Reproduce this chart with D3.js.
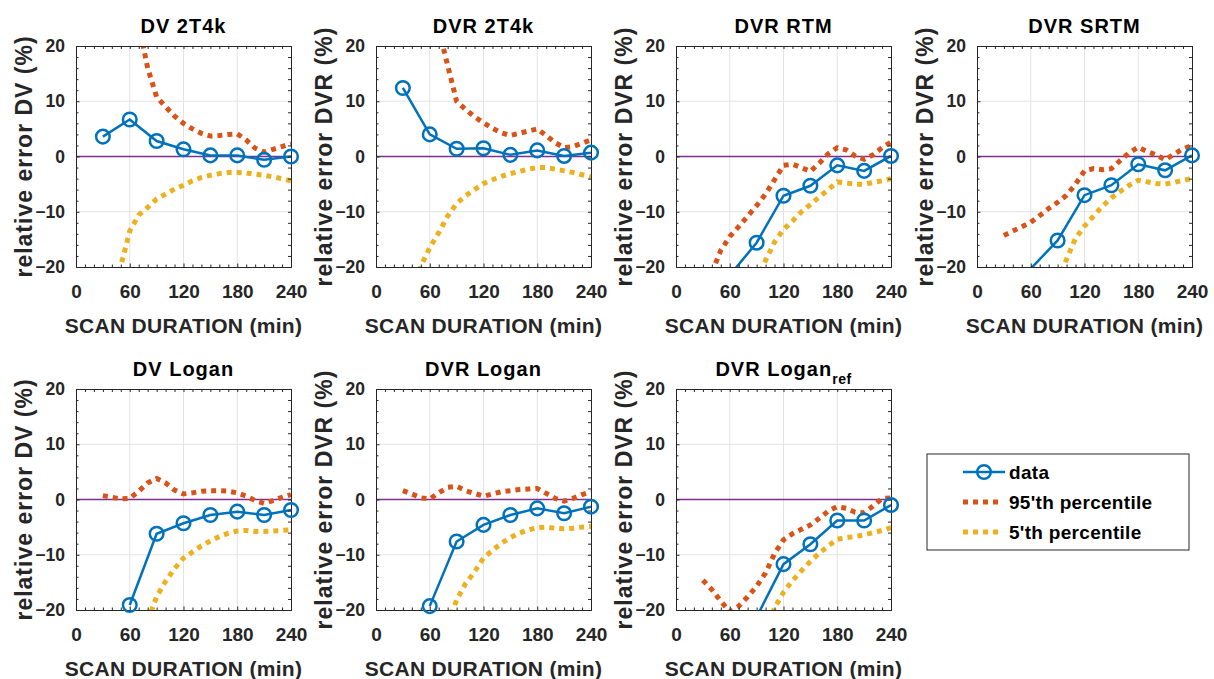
<!DOCTYPE html>
<html>
<head>
<meta charset="utf-8">
<script src="https://cdn.jsdelivr.net/npm/d3@7/dist/d3.min.js"></script>
<style>
    body { margin: 0; background: #fff; }
    text { font-family: "Liberation Sans", Arial, Helvetica, sans-serif; font-weight: bold; }
    .axis path, .axis line { stroke: #262626; }
    .axis text { fill: #262626; }
    .grid line { stroke: #e3e3e3; stroke-width: 1; }
    .title { fill: #000; font-size: 20px; letter-spacing: 1px; }
    .x-label { fill: #262626; font-size: 21px; letter-spacing: 0.3px; }
    .y-label { fill: #262626; font-size: 23px; letter-spacing: 1px; }
    .legend-text { fill: #000; font-size: 19px; letter-spacing: 0.3px; }
</style>
</head>
<body>
<svg id="chart" width="1214" height="679"></svg>
<script>
// scan durations (min) of the data points
const scanTimes = [30, 60, 90, 120, 150, 180, 210, 240];
const pctTimes = [30, 40, 50, 60, 70, 80, 90, 100, 110, 120, 130, 140, 150, 160, 170, 180, 190, 200, 210, 220, 230, 240];

const xTicks = [0, 60, 120, 180, 240];
const yTicks = [-20, -10, 0, 10, 20];
const xMinorTicks = [10, 20, 30, 40, 50, 70, 80, 90, 100, 110, 130, 140, 150, 160, 170, 190, 200, 210, 220, 230];
const yMinorTicks = [-18, -16, -14, -12, -8, -6, -4, -2, 2, 4, 6, 8, 12, 14, 16, 18];

const titles = ["DV 2T4k", "DVR 2T4k", "DVR RTM", "DVR SRTM", "DV Logan", "DVR Logan", "DVR Logan"];
const yLabels = ["relative error DV (%)", "relative error DVR (%)", "relative error DVR (%)", "relative error DVR (%)",
                 "relative error DV (%)", "relative error DVR (%)", "relative error DVR (%)"];
const legendLabels = ["data", "95'th percentile", "5'th percentile"];

// relative error (%) at scanTimes, null = not drawn
const dv2t4kData = [3.6, 6.7, 2.8, 1.3, 0.2, 0.2, -0.6, 0.0];
const dvr2t4kData = [12.4, 4.0, 1.4, 1.5, 0.3, 1.1, 0.1, 0.7];
const dvrRtmData = [null, -21.5, -15.6, -7.1, -5.3, -1.6, -2.6, 0.1];
const dvrSrtmData = [null, -20.3, -15.2, -7.0, -5.2, -1.4, -2.5, 0.2];
const dvLoganData = [null, -19.1, -6.2, -4.3, -2.8, -2.2, -2.8, -1.9];
const dvrLoganData = [null, -19.3, -7.6, -4.6, -2.8, -1.6, -2.5, -1.3];
const dvrLoganRefData = [null, null, -21.3, -11.7, -8.1, -3.8, -3.8, -1.0];

// 95'th percentile at pctTimes
const dv2t4kP95 = [null, null, null, null, 24.0, 16.0, 10.8, 9.0, 7.3, 6.0, 5.0, 4.2, 3.7, 3.8, 4.0, 4.1, 3.0, 1.5, 0.8, 1.3, 1.8, 2.3];
const dvr2t4kP95 = [null, null, null, null, 23.0, 16.5, 10.0, 8.5, 7.2, 6.1, 5.1, 4.3, 3.8, 4.2, 4.6, 5.0, 3.8, 2.5, 1.6, 1.8, 2.4, 3.0];
const dvrRtmP95 = [null, -21.0, -17.0, -14.5, -12.7, -10.8, -8.9, -6.8, -4.2, -1.6, -1.4, -2.0, -2.7, -1.2, 0.5, 1.6, 1.2, 0.1, -0.5, 0.3, 1.6, 2.6];
const dvrSrtmP95 = [-14.3, -13.5, -12.7, -11.9, -10.7, -9.4, -8.3, -7.0, -5.0, -2.6, -2.2, -2.4, -2.2, -0.7, 0.7, 1.7, 0.9, 0.3, -0.6, 0.4, 1.4, 2.0];
const dvLoganP95 = [0.7, 0.4, 0.1, 0.2, 1.5, 3.0, 3.8, 3.0, 1.7, 1.0, 1.2, 1.5, 1.6, 1.6, 1.5, 1.2, 0.6, -0.2, -0.7, -0.2, 0.4, 0.9];
const dvrLoganP95 = [1.6, 1.0, 0.3, 0.1, 1.2, 2.2, 2.4, 1.6, 1.1, 0.6, 1.0, 1.4, 1.6, 1.8, 1.9, 2.0, 1.1, 0.2, -0.3, 0.2, 0.9, 1.4];
const dvrLoganRefP95 = [-14.6, -16.3, -18.4, -20.3, -19.3, -17.6, -15.7, -13.3, -9.8, -7.3, -6.2, -5.4, -4.6, -3.4, -2.1, -1.3, -1.6, -2.3, -2.4, -1.2, 0.2, 0.3];

// 5'th percentile at pctTimes
const dv2t4kP5 = [null, -28.0, -19.8, -13.5, -10.6, -9.2, -7.7, -6.8, -5.9, -5.2, -4.4, -3.8, -3.4, -3.1, -2.9, -2.9, -3.0, -3.2, -3.4, -3.7, -4.0, -4.4];
const dvr2t4kP5 = [null, -26.0, -19.8, -16.5, -13.8, -10.8, -8.5, -7.1, -6.0, -4.9, -4.2, -3.6, -3.1, -2.7, -2.3, -2.0, -2.0, -2.3, -2.6, -2.9, -3.3, -3.7];
const dvrRtmP5 = [null, null, null, null, null, null, -22.5, -18.8, -15.5, -13.2, -11.7, -10.0, -8.7, -7.3, -6.0, -4.6, -4.8, -5.0, -5.0, -4.7, -4.4, -4.0];
const dvrSrtmP5 = [null, null, null, null, null, null, -22.5, -18.6, -14.8, -12.6, -10.8, -9.0, -7.5, -6.3, -5.2, -4.3, -4.6, -4.9, -5.0, -4.7, -4.3, -4.0];
const dvLoganP5 = [null, null, null, null, null, -22.0, -17.6, -14.8, -12.5, -10.6, -9.5, -8.4, -7.5, -6.7, -6.1, -5.7, -5.6, -5.8, -5.8, -5.7, -5.6, -5.5];
const dvrLoganP5 = [null, null, null, null, null, -22.5, -18.2, -15.2, -13.1, -10.6, -9.2, -7.9, -6.9, -6.1, -5.5, -5.1, -5.0, -5.2, -5.3, -5.2, -5.0, -4.9];
const dvrLoganRefP5 = [null, null, null, null, null, null, null, -24.0, -19.6, -16.8, -14.7, -12.9, -11.2, -9.7, -8.4, -7.2, -6.9, -6.7, -6.4, -6.0, -5.6, -5.1];

const dataSeries = [dv2t4kData, dvr2t4kData, dvrRtmData, dvrSrtmData, dvLoganData, dvrLoganData, dvrLoganRefData];
const p95Series = [dv2t4kP95, dvr2t4kP95, dvrRtmP95, dvrSrtmP95, dvLoganP95, dvrLoganP95, dvrLoganRefP95];
const p5Series = [dv2t4kP5, dvr2t4kP5, dvrRtmP5, dvrSrtmP5, dvLoganP5, dvrLoganP5, dvrLoganRefP5];

const colors = {data: "#0072BD", p95: "#D95319", p5: "#EDB120", zero: "#7E2F8E"};

//---LAYOUT------------------------------------------------------------------
const plotW = 215, plotH = 221;
const colLeft = [76, 376, 676, 977];
const rowTop = [46, 389];

let svg = d3.select("#chart");

let xScale = d3.scaleLinear().domain([0, 240]).range([0, plotW]);
let yScale = d3.scaleLinear().domain([-20, 20]).range([plotH, 0]);

let toPoints = (times, values) => times.map((t, i) => ({t: t, v: values[i]}));

let lineGen = d3.line()
    .defined(d => d.v !== null)
    .x(d => xScale(d.t))
    .y(d => yScale(d.v));

function drawPanel(i) {
    let col = i % 4, row = Math.floor(i / 4);
    let g = svg.append("g")
        .attr("transform", "translate(" + colLeft[col] + "," + rowTop[row] + ")");

    g.append("clipPath").attr("id", "clip" + i)
        .append("rect").attr("width", plotW).attr("height", plotH);

    //---GRID---------------------------------------------------------------
    let grid = g.append("g").attr("class", "grid");
    grid.selectAll(".gx").data(xTicks.slice(1, -1)).enter().append("line")
        .attr("x1", d => xScale(d)).attr("x2", d => xScale(d))
        .attr("y1", 0).attr("y2", plotH);
    grid.selectAll(".gy").data(yTicks.slice(1, -1)).enter().append("line")
        .attr("x1", 0).attr("x2", plotW)
        .attr("y1", d => yScale(d)).attr("y2", d => yScale(d));

    // zero reference line
    g.append("line")
        .attr("x1", xScale(0)).attr("x2", xScale(240))
        .attr("y1", yScale(0)).attr("y2", yScale(0))
        .attr("stroke", colors.zero).attr("stroke-width", 1.3);

    //---SERIES-------------------------------------------------------------
    let plot = g.append("g").attr("clip-path", "url(#clip" + i + ")");

    plot.append("path")
        .datum(toPoints(pctTimes, p95Series[i]))
        .attr("d", lineGen)
        .attr("fill", "none")
        .attr("stroke", colors.p95)
        .attr("stroke-width", 5)
        .attr("stroke-dasharray", "5,5");

    plot.append("path")
        .datum(toPoints(pctTimes, p5Series[i]))
        .attr("d", lineGen)
        .attr("fill", "none")
        .attr("stroke", colors.p5)
        .attr("stroke-width", 5)
        .attr("stroke-dasharray", "5,5");

    plot.append("path")
        .datum(toPoints(scanTimes, dataSeries[i]))
        .attr("d", lineGen)
        .attr("fill", "none")
        .attr("stroke", colors.data)
        .attr("stroke-width", 2.5);

    //---AXES---------------------------------------------------------------
    let xAxis = g.append("g").attr("class", "axis")
        .attr("transform", "translate(0," + plotH + ")")
        .call(d3.axisBottom(xScale).tickValues(xTicks).tickSize(-3.5).tickSizeOuter(0).tickPadding(17.5));
    xAxis.selectAll("text").style("font-size", "19px");
    g.append("g").attr("class", "axis")
        .attr("transform", "translate(0," + plotH + ")")
        .call(d3.axisBottom(xScale).tickValues(xMinorTicks).tickSize(-2.5).tickFormat(""));

    let yAxis = g.append("g").attr("class", "axis")
        .call(d3.axisLeft(yScale).tickValues(yTicks).tickSize(-3.5).tickSizeOuter(0).tickPadding(11));
    yAxis.selectAll("text").style("font-size", "17.5px");
    g.append("g").attr("class", "axis")
        .call(d3.axisLeft(yScale).tickValues(yMinorTicks).tickSize(-2.5).tickFormat(""));

    g.append("g").attr("class", "axis")
        .call(d3.axisTop(xScale).tickValues(xTicks.concat(xMinorTicks)).tickSize(-3).tickSizeOuter(0).tickFormat(""));
    g.append("g").attr("class", "axis")
        .attr("transform", "translate(" + plotW + ",0)")
        .call(d3.axisRight(yScale).tickValues(yTicks.concat(yMinorTicks)).tickSize(-3).tickSizeOuter(0).tickFormat(""));

    //---MARKERS (not clipped, only points inside the axes)-----------------
    g.selectAll(".marker")
        .data(toPoints(scanTimes, dataSeries[i]).filter(d => d.v !== null && d.v >= -20 && d.v <= 20))
        .enter().append("circle")
        .attr("class", "marker")
        .attr("cx", d => xScale(d.t))
        .attr("cy", d => yScale(d.v))
        .attr("r", 6.8)
        .attr("fill", "none")
        .attr("stroke", colors.data)
        .attr("stroke-width", 2.5);

    //---LABELS-------------------------------------------------------------
    let title = g.append("text").attr("class", "title")
        .attr("x", plotW / 2).attr("y", -13)
        .style("text-anchor", "middle")
        .text(titles[i]);
    if (i === 6) {
        title.append("tspan").attr("dy", 8).style("font-size", "14px").style("letter-spacing", "0.5px").text("ref");
    }

    g.append("text").attr("class", "x-label")
        .attr("x", plotW / 2).attr("y", plotH + 66)
        .style("text-anchor", "middle")
        .text("SCAN DURATION (min)");

    g.append("text").attr("class", "y-label")
        .attr("transform", "translate(-44," + (plotH / 2) + ") rotate(-90)")
        .style("text-anchor", "middle")
        .text(yLabels[i]);
}

for (let i = 0; i < titles.length; i++) {
    drawPanel(i);
}

//---LEGEND------------------------------------------------------------------
let legend = svg.append("g").attr("transform", "translate(927,454)");
legend.append("rect")
    .attr("width", 262).attr("height", 96)
    .attr("fill", "#fff").attr("stroke", "#262626").attr("stroke-width", 1);

let legendStyles = [
    {color: colors.data, dash: null, width: 2.5},
    {color: colors.p95, dash: "5,5", width: 5},
    {color: colors.p5, dash: "5,5", width: 5}
];

legendLabels.forEach((label, k) => {
    let yy = 18 + k * 30;
    legend.append("line")
        .attr("x1", 36).attr("x2", k === 0 ? 78 : 73)
        .attr("y1", yy).attr("y2", yy)
        .attr("stroke", legendStyles[k].color)
        .attr("stroke-width", legendStyles[k].width)
        .attr("stroke-dasharray", legendStyles[k].dash);
    if (k === 0) {
        legend.append("circle")
            .attr("cx", 57).attr("cy", yy).attr("r", 6.8)
            .attr("fill", "none").attr("stroke", colors.data).attr("stroke-width", 2.5);
    }
    legend.append("text").attr("class", "legend-text")
        .attr("x", 82).attr("y", yy + 7)
        .text(label);
});
</script>
</body>
</html>
